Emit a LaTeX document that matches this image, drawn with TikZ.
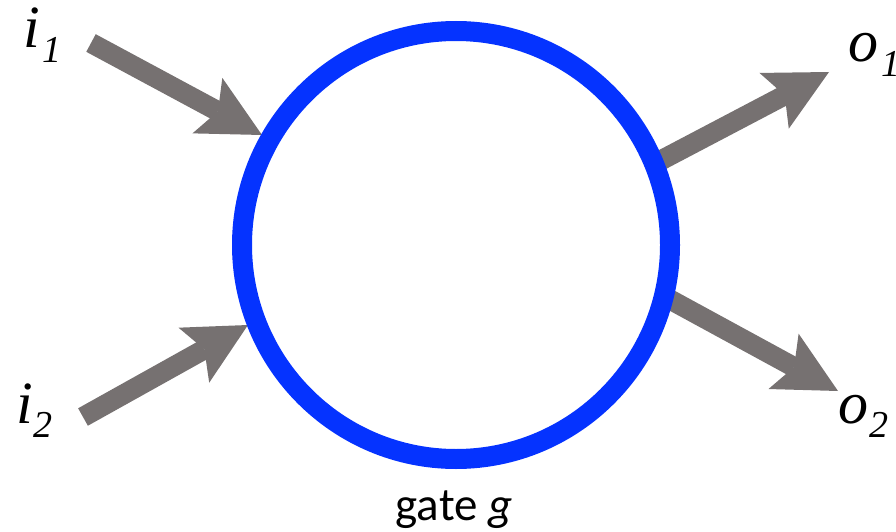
\documentclass[tikz,border=0pt]{standalone}
\usepackage{fontspec}
\setmainfont{Liberation Serif}
\newfontfamily\captionfont{Carlito}
\usetikzlibrary{arrows.meta}
\definecolor{gateblue}{RGB}{5,51,255}
\definecolor{wiregray}{RGB}{118,113,113}
\begin{document}
\begin{tikzpicture}[x=1pt,y=-1pt,
  wire/.style={draw=wiregray, line width=20pt,
    -{Stealth[length=62pt,width=63pt,inset=12pt,line width=0pt]}},
  gatering/.style={circle, draw=gateblue, line width=20pt,
    minimum size=428pt, inner sep=0pt},
  pinlabel/.style={font=\fontsize{60}{60}\selectfont\itshape,
    inner sep=0pt, anchor=base west},
  sublabel/.style={font=\fontsize{38}{38}\selectfont\itshape,
    inner sep=0pt, anchor=base west},
  gatelabel/.style={font=\captionfont\fontsize{47}{47}\selectfont,
    inner sep=0pt, anchor=base}]
\useasboundingbox (0,0) rectangle (896,532);

% wire end points
\coordinate (i1s) at (91,43);
\coordinate (i1e) at (262,135);
\coordinate (i2s) at (83,417);
\coordinate (i2e) at (248,325);
\coordinate (o1s) at (652,165);
\coordinate (o1e) at (829,72);
\coordinate (o2s) at (658,293);
\coordinate (o2e) at (838,391);

% wires into and out of the gate
\draw[wire] (i1s) -- (i1e);
\draw[wire] (i2s) -- (i2e);
\draw[wire] (o1s) -- (o1e);
\draw[wire] (o2s) -- (o2e);

% the gate itself
\node[gatering] (g) at (456,245) {};

% pin labels
\node[pinlabel] (li1) at (23,48) {i};
\node[sublabel] (li1s) at (42,63) {1};
\node[pinlabel] (li2) at (16,423) {i};
\node[sublabel] (li2s) at (33,437) {2};
\node[pinlabel] (lo1) at (848,62) {o};
\node[sublabel] (lo1s) at (881,77) {1};
\node[pinlabel] (lo2) at (838,423) {o};
\node[sublabel] (lo2s) at (869,437) {2};

% caption
\node[gatelabel] (lg) at (454,520) {gate \textit{g}};
\end{tikzpicture}
\end{document}
